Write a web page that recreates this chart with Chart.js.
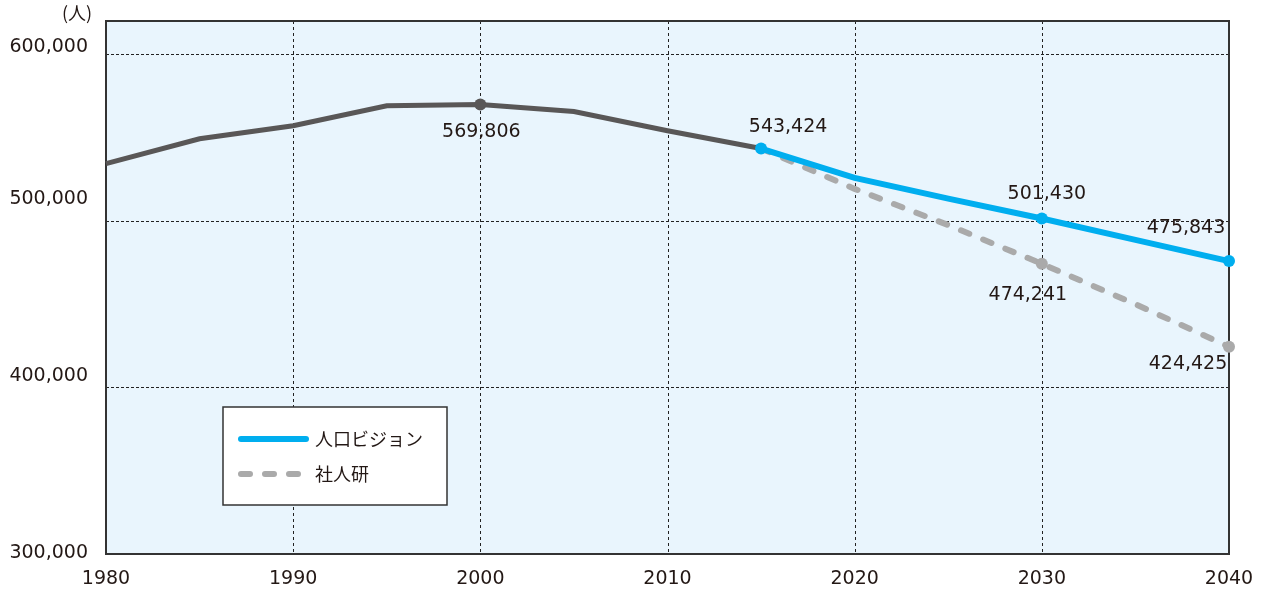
<!DOCTYPE html>
<html lang="ja">
<head>
<meta charset="utf-8">
<title>人口の推移と将来推計</title>
<script src="https://cdn.jsdelivr.net/npm/chart.js@4.4.1/dist/chart.umd.min.js"></script>
<style>
  html, body { margin: 0; padding: 0; background: #ffffff; }
  #wrap { width: 1261px; height: 589px; }
</style>
</head>
<body>
<div id="wrap"><canvas id="chart" width="1261" height="589"></canvas></div>
<script>
// Population (people), actual figures and two projections
const historyYears = [1980, 1985, 1990, 1995, 2000, 2005, 2010, 2015];
const historyValues = [534400, 549300, 557100, 569100, 569806, 565700, 554100, 543424];

const projectionYears = [2015, 2020, 2025, 2030, 2035, 2040];
const visionValues = [543424, 525800, 513400, 501430, 488600, 475843];   // 人口ビジョン
const ipssValues = [543424, 519200, 497500, 474241, 450000, 424425];     // 社人研

const xTickLabels = ['1980', '1990', '2000', '2010', '2020', '2030', '2040'];
const yTickValues = [300000, 400000, 500000, 600000];
const seriesNames = ['人口ビジョン', '社人研'];
const unitLabel = '(人)';

const FONT = '"DejaVu Sans", "Noto Sans CJK JP", sans-serif';
const CJK_FONT = '"Noto Sans CJK JP", sans-serif';
const TEXT = '#231815';
const BLUE = '#00aeef';
const DARK = '#595757';
const LIGHT = '#aaaaaa';

const toPoints = (xs, ys) => xs.map((x, i) => ({ x, y: ys[i] }));
const fmt = v => v.toLocaleString('en-US');

// which points carry a marker
const markers = (xs, keep) => xs.map(x => keep.includes(x) ? 6 : 0);

// value labels: dataset index, point index, offset of label centre from the point
const valueLabels = [
  { ds: 2, idx: 4, dx: 1,   dy: 27 },
  { ds: 0, idx: 0, dx: 27,  dy: -21 },
  { ds: 0, idx: 3, dx: 5,   dy: -24 },
  { ds: 0, idx: 5, dx: -43, dy: -33 },
  { ds: 1, idx: 3, dx: -14, dy: 31 },
  { ds: 1, idx: 5, dx: -41, dy: 17 }
];

// vertical offsets of the y axis labels relative to their grid value
const yLabelShift = { 300000: -1, 400000: -11, 500000: -22, 600000: -7 };

const frame = {
  id: 'frame',
  beforeDraw(chart) {
    const { ctx, chartArea: a } = chart;
    ctx.save();
    ctx.fillStyle = '#e9f5fd';
    ctx.fillRect(a.left, a.top, a.right - a.left, a.bottom - a.top);
    ctx.restore();
  },
  beforeDatasetsDraw(chart) {
    const { ctx, chartArea: a, scales: { x, y } } = chart;
    ctx.save();
    ctx.strokeStyle = '#222';
    ctx.lineWidth = 1;
    ctx.setLineDash([3, 3]);
    [1990, 2000, 2010, 2020, 2030].forEach(v => {
      const px = Math.round(x.getPixelForValue(v)) + 0.5;
      ctx.beginPath(); ctx.moveTo(px, a.top); ctx.lineTo(px, a.bottom); ctx.stroke();
    });
    ctx.setLineDash([3, 2]);
    [400000, 500000, 600000].forEach(v => {
      const py = Math.round(y.getPixelForValue(v)) + 0.5;
      ctx.beginPath(); ctx.moveTo(a.left, py); ctx.lineTo(a.right, py); ctx.stroke();
    });
    ctx.setLineDash([]);
    ctx.strokeStyle = '#333';
    ctx.lineWidth = 2;
    ctx.strokeRect(a.left, a.top, a.right - a.left, a.bottom - a.top);

    // y axis labels
    ctx.fillStyle = TEXT;
    ctx.font = '19px ' + FONT;
    ctx.textAlign = 'right';
    ctx.textBaseline = 'middle';
    yTickValues.forEach(v => {
      ctx.fillText(fmt(v), 88, y.getPixelForValue(v) + yLabelShift[v]);
    });
    // unit
    ctx.textAlign = 'center';
    ctx.font = '18px ' + CJK_FONT;
    ctx.fillText(unitLabel, 77, 13);
    ctx.restore();
  },
  afterDatasetsDraw(chart) {
    const { ctx } = chart;
    ctx.save();
    ctx.fillStyle = TEXT;
    ctx.font = '19px ' + FONT;
    ctx.textAlign = 'center';
    ctx.textBaseline = 'middle';
    valueLabels.forEach(l => {
      const el = chart.getDatasetMeta(l.ds).data[l.idx];
      const v = chart.data.datasets[l.ds].data[l.idx].y;
      ctx.fillText(fmt(v), el.x + l.dx, el.y + l.dy);
    });

    // legend box
    const bx = 223, by = 407, bw = 224, bh = 98;
    ctx.fillStyle = '#ffffff';
    ctx.fillRect(bx, by, bw, bh);
    ctx.strokeStyle = '#333';
    ctx.lineWidth = 1.5;
    ctx.strokeRect(bx, by, bw, bh);

    ctx.lineCap = 'round';
    ctx.lineWidth = 6;
    ctx.strokeStyle = BLUE;
    ctx.beginPath(); ctx.moveTo(241, 439); ctx.lineTo(306, 439); ctx.stroke();
    ctx.strokeStyle = LIGHT;
    ctx.setLineDash([9, 15]);
    ctx.beginPath(); ctx.moveTo(241, 474); ctx.lineTo(310, 474); ctx.stroke();
    ctx.setLineDash([]);

    ctx.fillStyle = TEXT;
    ctx.font = '18px ' + CJK_FONT;
    ctx.textAlign = 'left';
    ctx.fillText(seriesNames[0], 315, 439);
    ctx.fillText(seriesNames[1], 315, 474);
    ctx.restore();
  }
};

new Chart(document.getElementById('chart'), {
  type: 'line',
  data: {
    datasets: [
      {
        label: seriesNames[0],
        data: toPoints(projectionYears, visionValues),
        borderColor: BLUE,
        backgroundColor: BLUE,
        borderWidth: 6,
        pointRadius: markers(projectionYears, [2015, 2030, 2040]),
        pointBorderWidth: 0,
        tension: 0,
        clip: false
      },
      {
        label: seriesNames[1],
        data: toPoints(projectionYears, ipssValues),
        borderColor: LIGHT,
        backgroundColor: LIGHT,
        borderWidth: 6,
        borderDash: [9, 15],
        borderCapStyle: 'round',
        pointRadius: markers(projectionYears, [2030, 2040]),
        pointBorderWidth: 0,
        tension: 0,
        clip: false
      },
      {
        label: '実績',
        data: toPoints(historyYears, historyValues),
        borderColor: DARK,
        backgroundColor: DARK,
        borderWidth: 5,
        pointRadius: markers(historyYears, [2000]),
        pointBorderWidth: 0,
        tension: 0,
        clip: false
      }
    ]
  },
  options: {
    responsive: false,
    animation: false,
    events: [],
    layout: { padding: { top: 21, right: 32, left: 0, bottom: 0 } },
    plugins: { legend: { display: false }, tooltip: { enabled: false } },
    scales: {
      x: {
        type: 'linear',
        min: 1980,
        max: 2040,
        grid: { display: false, drawTicks: false },
        border: { display: false },
        afterBuildTicks: s => { s.ticks = xTickLabels.map(t => ({ value: Number(t) })); },
        ticks: {
          callback: v => xTickLabels.find(t => Number(t) === v),
          color: TEXT,
          font: { family: FONT, size: 19 },
          padding: 14,
          maxRotation: 0,
          autoSkip: false
        },
        afterFit: s => { s.height = 35; s.paddingLeft = 0; s.paddingRight = 0; }
      },
      y: {
        min: 300000,
        max: 620000,
        grid: { display: false },
        border: { display: false },
        ticks: { display: false },
        afterFit: s => { s.width = 106; }
      }
    }
  },
  plugins: [frame]
});
</script>
</body>
</html>
